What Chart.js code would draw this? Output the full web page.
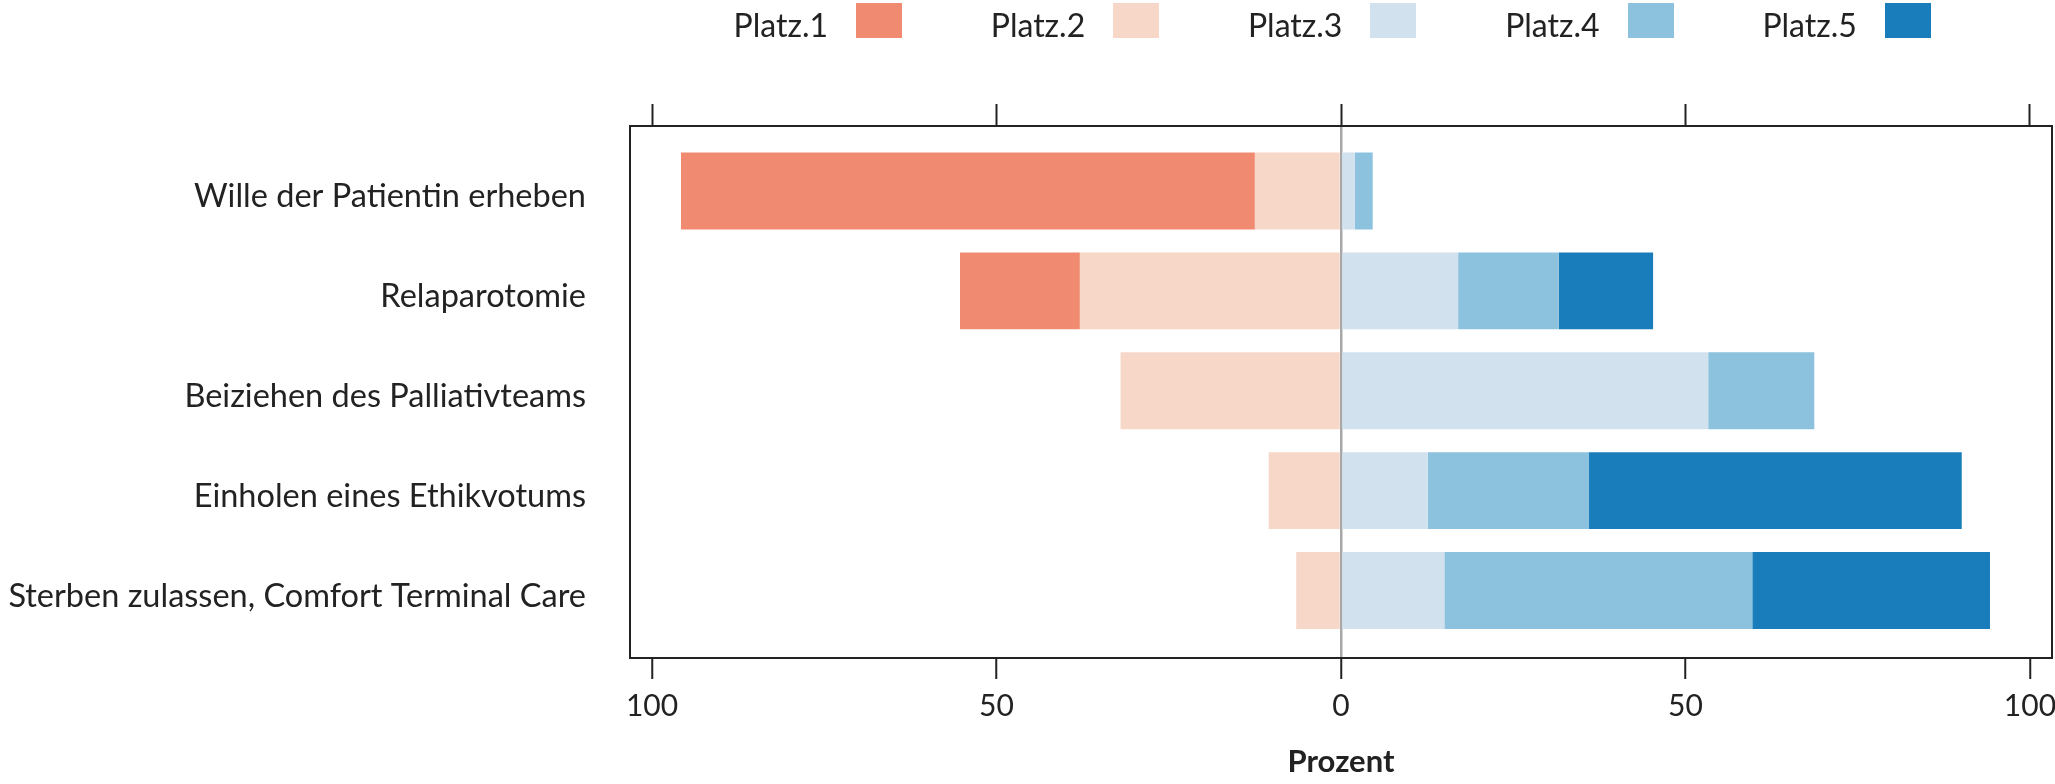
<!DOCTYPE html>
<html lang="de">
<head>
<meta charset="UTF-8">
<title>Platzierung der Optionen</title>
<script src="https://cdn.jsdelivr.net/npm/chart.js"></script>
<style>
  body { margin: 0; background: #fff; }
  #wrap { position: relative; width: 2055px; height: 784px; }
  #legend { position: absolute; left: 0; top: 0; width: 2055px; height: 45px; font-family: Lato, sans-serif; font-size: 32px; color: #222; }
  #legend .txt { position: absolute; top: 9px; line-height: 32px; white-space: nowrap; }
  #legend .box { position: absolute; top: 3px; width: 46px; height: 35px; }
</style>
</head>
<body>
<div id="wrap">
  <canvas id="chart" width="2055" height="784"></canvas>
  <div id="legend"></div>
</div>
<script>
const categories = [
  'Wille der Patientin erheben',
  'Relaparotomie',
  'Beiziehen des Palliativteams',
  'Einholen eines Ethikvotums',
  'Sterben zulassen, Comfort Terminal Care'
];
const seriesNames = ['Platz.1', 'Platz.2', 'Platz.3', 'Platz.4', 'Platz.5'];
const platz1 = [83.3, 17.4, 0, 0, 0];
const platz2 = [12.5, 37.9, 32.0, 10.5, 6.5];
const platz3 = [2.0, 17.0, 53.3, 12.6, 15.0];
const platz4 = [2.6, 14.6, 15.4, 23.4, 44.7];
const platz5 = [0, 13.7, 0, 54.1, 34.5];
const colors = ['#F08A70', '#F7D7C8', '#D1E1EE', '#8CC2DE', '#1A7DBB'];
const xTicks = [-100, -50, 0, 50, 100];

// Platz.1/2 go to the left (negative), Platz.2 sits next to zero
const toPoints = (arr, sign) => arr.map((v, i) => ({ x: sign * v, y: i }));
const datasets = [
  { label: seriesNames[1], data: toPoints(platz2, -1), backgroundColor: colors[1] },
  { label: seriesNames[0], data: toPoints(platz1, -1), backgroundColor: colors[0] },
  { label: seriesNames[2], data: toPoints(platz3, 1), backgroundColor: colors[2] },
  { label: seriesNames[3], data: toPoints(platz4, 1), backgroundColor: colors[3] },
  { label: seriesNames[4], data: toPoints(platz5, 1), backgroundColor: colors[4] }
];

// legend: text first, then the colour box
const legend = document.getElementById('legend');
seriesNames.forEach((name, i) => {
  const t = document.createElement('div');
  t.className = 'txt';
  t.textContent = name;
  t.style.right = (2055 - (828 + i * 257.2)) + 'px';
  legend.appendChild(t);
  const b = document.createElement('div');
  b.className = 'box';
  b.style.left = (856 + i * 257.2) + 'px';
  b.style.background = colors[i];
  legend.appendChild(b);
});

const framePlugin = {
  id: 'frame',
  afterDatasetsDraw(chart) {
    const { ctx, chartArea: a } = chart;
    ctx.save();
    ctx.strokeStyle = '#222';
    ctx.lineWidth = 2;
    ctx.strokeRect(a.left, a.top, a.right - a.left, a.bottom - a.top);
    ctx.restore();
  }
};

const setXTicks = s => { s.ticks = xTicks.map(v => ({ value: v })); };
const noPad = s => { s.paddingLeft = 0; s.paddingRight = 0; s.paddingTop = 0; s.paddingBottom = 0; };

new Chart(document.getElementById('chart'), {
  type: 'bar',
  data: { datasets },
  plugins: [framePlugin],
  options: {
    responsive: false,
    animation: false,
    indexAxis: 'y',
    layout: { padding: { left: 0, right: 3, top: 0, bottom: 0 } },
    datasets: { bar: { barPercentage: 0.77, categoryPercentage: 1, borderWidth: 0 } },
    plugins: { legend: { display: false }, tooltip: { enabled: false } },
    scales: {
      x: {
        type: 'linear', position: 'bottom', stacked: true, min: -103.2, max: 103.2, offset: false,
        afterBuildTicks: setXTicks,
        afterFit: s => { s.height = 126; noPad(s); },
        ticks: { callback: v => Math.abs(v), font: { family: 'Lato', size: 30 }, color: '#222', padding: 9, maxRotation: 0, autoSkip: false },
        grid: {
          color: c => (c.tick && c.tick.value === 0) ? '#a8a8a8' : 'rgba(0,0,0,0)',
          lineWidth: 2.5, tickColor: '#222', tickWidth: 2, tickLength: 21
        },
        border: { display: false },
        title: { display: true, text: 'Prozent', font: { family: 'Lato', size: 31, weight: 'bold' }, color: '#222', padding: { top: 0, bottom: 3 } }
      },
      x2: {
        type: 'linear', position: 'top', display: true, min: -103.2, max: 103.2, offset: false,
        afterBuildTicks: setXTicks,
        afterFit: s => { s.height = 126; noPad(s); },
        ticks: { callback: () => '', font: { size: 10 } },
        grid: { drawOnChartArea: false, tickColor: '#222', tickWidth: 2, tickLength: 22 },
        border: { display: false }
      },
      y: {
        type: 'linear', reverse: true, stacked: true, min: -0.65, max: 4.675, offset: false,
        afterBuildTicks: s => { s.ticks = categories.map((_, i) => ({ value: i })); },
        afterFit: s => { s.width = 630; noPad(s); },
        ticks: { callback: v => categories[v], font: { family: 'Lato', size: 32.5 }, color: '#222', padding: 44, labelOffset: 6, autoSkip: false },
        grid: { display: false, drawTicks: false, offset: false },
        border: { display: false }
      }
    }
  }
});
</script>
</body>
</html>
